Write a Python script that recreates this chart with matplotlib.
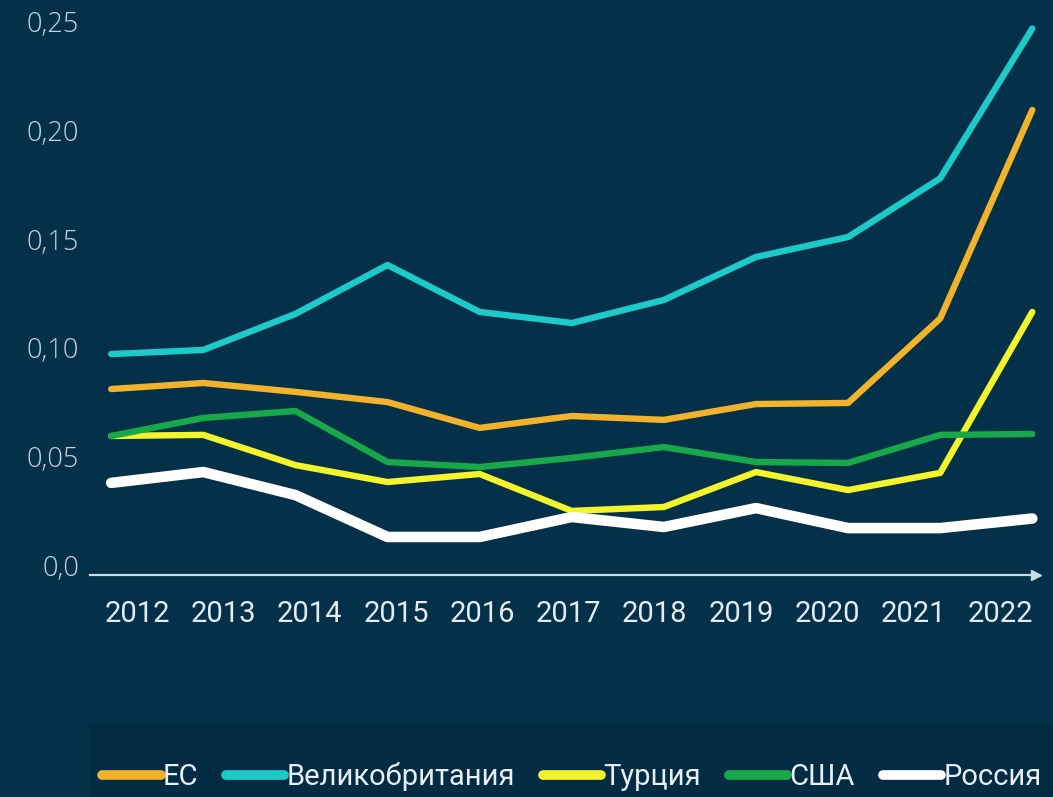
import numpy as np
import matplotlib
matplotlib.use("Agg")
import matplotlib.pyplot as plt
from matplotlib.patches import Rectangle

years = list(range(2012, 2023))

eu = [0.081, 0.0838, 0.0797, 0.075, 0.0631, 0.0686, 0.0668, 0.0741, 0.0746, 0.1135, 0.2095]
uk = [0.0971, 0.099, 0.1156, 0.1381, 0.1165, 0.1114, 0.122, 0.1418, 0.151, 0.178, 0.247]
turkey = [0.0594, 0.0599, 0.046, 0.0382, 0.0419, 0.0249, 0.0267, 0.0428, 0.0345, 0.0424, 0.1165]
usa = [0.0594, 0.0677, 0.0709, 0.0474, 0.0451, 0.0493, 0.0543, 0.0474, 0.047, 0.0599, 0.0603]
russia = [0.0378, 0.0428, 0.0322, 0.0129, 0.0129, 0.0221, 0.0175, 0.0262, 0.017, 0.017, 0.0214]

series_names = ["ЕС", "Великобритания", "Турция", "США", "Россия"]
series_colors = ["#f2b22b", "#1ccbc8", "#f4f42c", "#17a84a", "#ffffff"]
series_widths = [4.6, 4.6, 4.6, 4.6, 7.6]

y_ticks = [0.0, 0.05, 0.10, 0.15, 0.20, 0.25]
y_tick_labels = ["0,0", "0,05", "0,10", "0,15", "0,20", "0,25"]

bg = "#04304a"
axis_col = "#c9dbe3"

fig = plt.figure(figsize=(10.53, 7.97), dpi=100, facecolor=bg)
ax = fig.add_axes([90 / 1053, 222 / 797, 946 / 1053, 565 / 797])
ax.set_facecolor(bg)

# slightly darker band behind the legend
fig.patches.append(Rectangle((90 / 1053, 0), 1 - 90 / 1053, 74 / 797,
                             transform=fig.transFigure, color="#032c44", zorder=0))

for vals, name, col, lw in zip([eu, uk, turkey, usa, russia], series_names,
                               series_colors, series_widths):
    ax.plot(years, vals, color=col, lw=lw, solid_capstyle="round",
            solid_joinstyle="round", label=name, clip_on=False)

ax.set_xlim(2011.77, 2022.04)
ax.set_ylim(-0.0046, 0.2555)

for side in ["top", "right", "left"]:
    ax.spines[side].set_visible(False)
ax.spines["bottom"].set_color(axis_col)
ax.spines["bottom"].set_linewidth(1.6)
ax.plot(1.0, 0.0, marker=">", color=axis_col, markersize=7,
        transform=ax.transAxes, clip_on=False)

# year labels sit on their own, slightly tighter spacing than the data points
label_pos = np.linspace(2012.28, 2021.65, len(years))
ax.set_xticks(label_pos)
ax.set_xticklabels([str(y) for y in years], family=["Roboto", "DejaVu Sans"],
                   fontsize=21, color="#e4eef2")
ax.tick_params(axis="x", length=0, pad=18)

ax.set_yticks(y_ticks)
ax.set_yticklabels(y_tick_labels, family=["Open Sans", "DejaVu Sans"], fontweight="light",
                   fontsize=19.5, color="#c4d4dc")
ax.tick_params(axis="y", length=0, pad=8)

leg = fig.legend(loc="lower left", bbox_to_anchor=(76 / 1053, -0.026), ncol=5, frameon=False,
                 handlelength=2.0, handletextpad=0.08, columnspacing=0.95,
                 prop={"family": ["Roboto", "DejaVu Sans"], "size": 21})
for t in leg.get_texts():
    t.set_color("#e8f0f4")
for h in leg.legend_handles:
    h.set_linewidth(7)
    h.set_solid_capstyle("round")

fig.savefig("out.png", dpi=100, facecolor=bg)
